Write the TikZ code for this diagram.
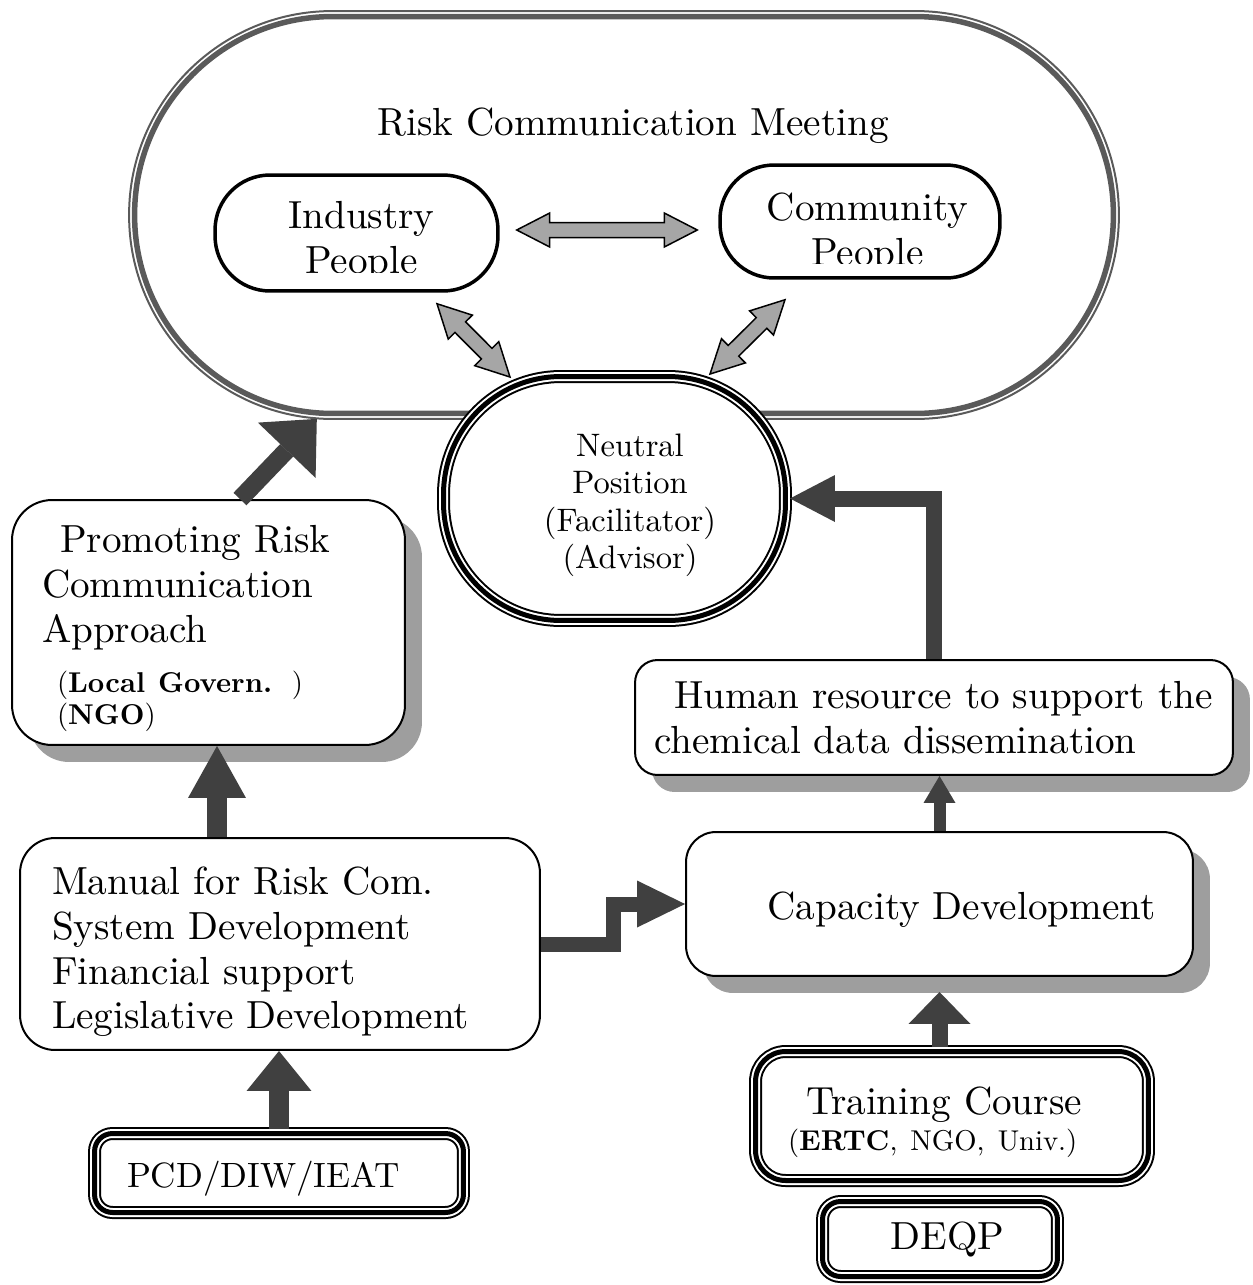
\documentclass[tikz,border=0pt]{standalone}
\usepackage{fontspec}
\setmainfont{lmroman10-regular.otf}[BoldFont=lmroman10-bold.otf, ItalicFont=lmroman10-italic.otf]
\usetikzlibrary{arrows.meta,calc,shadows}

\definecolor{ringgray}{HTML}{5A5A5A}
\definecolor{darkgrey}{HTML}{404040}
\definecolor{arrowgrey}{HTML}{A6A6A6}
\definecolor{shadowgrey}{HTML}{9E9E9E}

\newcommand{\mainsize}{\fontsize{22.3}{25.5}\selectfont}
\newcommand{\midsize}{\fontsize{18.5}{21.4}\selectfont}
\newcommand{\smallsize}{\fontsize{16.3}{19}\selectfont}
\newcommand{\topgap}[1]{\rule{0pt}{#1}}

\newcommand{\twoway}[2]{%
  \filldraw[twoway] (#1)
    -- ($(#1)!0.66cm!(#2)!0.34cm!90:(#2)$)
    -- ($(#1)!0.66cm!(#2)!0.15cm!90:(#2)$)
    -- ($(#2)!0.66cm!(#1)!0.15cm!-90:(#1)$)
    -- ($(#2)!0.66cm!(#1)!0.34cm!-90:(#1)$)
    -- (#2)
    -- ($(#2)!0.66cm!(#1)!0.34cm!90:(#1)$)
    -- ($(#2)!0.66cm!(#1)!0.15cm!90:(#1)$)
    -- ($(#1)!0.66cm!(#2)!0.15cm!-90:(#2)$)
    -- ($(#1)!0.66cm!(#2)!0.34cm!-90:(#2)$)
    -- cycle;}

\tikzset{
  box/.style={draw, line width=0.04cm, fill=white, font=\mainsize},
  shadowbox/.style={box, drop shadow={shadow xshift=0.34cm, shadow yshift=-0.34cm, fill=shadowgrey, opacity=1}},
  pill/.style={draw, line width=0.07cm, fill=white},
  triple/.style={draw=white, line width=0.18cm, font=\mainsize,
    preaction={fill=white, draw=black, line width=0.26cm},
    postaction={draw=black, line width=0.1cm}},
  bigarrow/.style n args={3}{draw=darkgrey, line width=#1, -{Triangle[length=#2, width=#3, line width=0pt]}},
  twoway/.style={fill=arrowgrey, draw=black, line width=0.03cm, line join=miter}
}

\begin{document}
\begin{tikzpicture}[x=0.02cm, y=-0.02cm]
\useasboundingbox (0,0) rectangle (1252,1285);

\node[draw=ringgray, line width=0.11cm, outer sep=0pt, rounded corners=3.96cm, minimum width=19.58cm, minimum height=7.94cm] (meet) at (624,215) {};
\draw[ringgray, line width=0.04cm, rounded corners=4.07cm] ([shift={(-0.11cm,0.11cm)}]meet.north west) rectangle ([shift={(0.11cm,-0.11cm)}]meet.south east);
\node[font=\mainsize, anchor=base] (title) at (633,135) {Risk Communication Meeting};

\node[pill, rounded corners=1.1cm, minimum width=5.66cm, minimum height=2.32cm] (ind) at (356.5,233) {};
\node[pill, rounded corners=1.08cm, minimum width=5.6cm, minimum height=2.26cm] (com) at (860,221.5) {};
\begin{scope}
  \clip (215,150) rectangle (500,272);
  \node[font=\mainsize, align=center, anchor=base] (indtext) at (361.5,273) {Industry\\People};
\end{scope}
\begin{scope}
  \clip (720,140) rectangle (1000,263);
  \node[font=\mainsize, align=center, anchor=base] (comtext) at (867.5,265) {Community\\People};
\end{scope}

\node[triple, rounded corners=2.35cm, minimum width=6.84cm, minimum height=4.88cm, font=\midsize, align=center] (neu) at (614.5,498.5)
  {\hspace*{0.62cm}\topgap{0.72cm}Neutral\\\hspace*{0.62cm}Position\\\hspace*{0.62cm}(Facilitator)\\\hspace*{0.62cm}(Advisor)};

\coordinate (h1) at ($(ind.east)+(17,-3)$);
\coordinate (h2) at ($(com.west)+(-21,8.5)$);
\coordinate (d1) at ($(ind.south)+(80.5,11)$);
\coordinate (d2) at ($(neu.north)+(-104.5,5)$);
\coordinate (d3) at ($(com.south)+(-75,20)$);
\coordinate (d4) at ($(neu.north)+(95.5,2)$);
\twoway{h1}{h2}
\twoway{d1}{d2}
\twoway{d3}{d4}

\node[shadowbox, rounded corners=0.8cm, minimum width=7.86cm, minimum height=4.9cm, text width=6.66cm, align=left] (prom) at (208.5,622.5)
  {\hspace*{0.36cm}\topgap{0.79cm}Promoting Risk\\Communication\\Approach\\[3pt]\hspace*{0.3cm}{\smallsize(\textbf{Local Govern.} )}\\[-7pt]\hspace*{0.3cm}{\smallsize(\textbf{NGO})}};
\node[box, rounded corners=0.7cm, minimum width=10.4cm, minimum height=4.24cm, text width=9.12cm, align=left] (man) at (280,944)
  {\topgap{0.87cm}Manual for Risk Com.\\System Development\\Financial support\\Legislative Development};
\node[shadowbox, rounded corners=0.45cm, minimum width=11.96cm, minimum height=2.3cm, text width=11.2cm, align=left] (hum) at (934,717.5)
  {\hspace*{0.4cm}Human resource to support the\\chemical data dissemination};
\node[shadowbox, rounded corners=0.6cm, minimum width=10.14cm, minimum height=2.88cm] (cap) at (939.5,904)
  {\hspace*{0.88cm}\topgap{0.79cm}Capacity Development};
\node[triple, rounded corners=0.6cm, minimum width=7.86cm, minimum height=2.58cm, text width=6.56cm, align=left] (train) at (952,1116)
  {\hspace*{0.36cm}\topgap{0.79cm}Training Course\\[-5pt]{\smallsize(\textbf{ERTC}, NGO, Univ.)}};
\node[triple, rounded corners=0.36cm, minimum width=7.38cm, minimum height=1.58cm, text width=6.08cm, align=left, font=\fontsize{20}{24}\selectfont] (pcd) at (279,1173)
  {\topgap{0.77cm}PCD/DIW/IEAT};
\node[triple, rounded corners=0.36cm, minimum width=4.7cm, minimum height=1.5cm] (deqp) at (940,1239) {\hspace*{0.3cm}DEQP};

\draw[bigarrow={0.36cm}{0.87cm}{1.6cm}, shorten >=0.15cm] ([xshift=0.63cm]prom.north) -- (meet.south -| 322,0);
\draw[bigarrow={0.4cm}{1.04cm}{1.16cm}] (man.north -| 217,0) -- (prom.south -| 217,0);
\draw[bigarrow={0.4cm}{0.8cm}{1.3cm}] (pcd.north) -- (pcd.north |- man.south);
\draw[bigarrow={0.32cm}{0.64cm}{1.24cm}, shorten >=0.3cm] (train.north -| cap.south) -- (cap.south);
\draw[bigarrow={0.24cm}{0.54cm}{0.64cm}] (cap.north) -- (cap.north |- hum.south);
\draw[bigarrow={0.3cm}{0.96cm}{0.94cm}] (man.east) -- ++(73,0) |- (cap.west);
\draw[bigarrow={0.32cm}{0.9cm}{0.94cm}] (hum.north) |- (neu.east);
\end{tikzpicture}
\end{document}
